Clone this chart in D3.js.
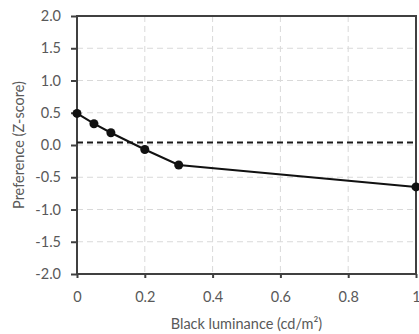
<!DOCTYPE html>
<html>
<head>
<meta charset="utf-8">
<script src="https://cdn.jsdelivr.net/npm/d3@7"></script>
<style>
  body { margin: 0; background: #fff; }
  text { font-family: Lato, "Open Sans", sans-serif; fill: #595959; }
</style>
</head>
<body>
<div id="chart"></div>
<script>
// data
var luminance = [0, 0.05, 0.1, 0.2, 0.3, 1.0];
var preference = [0.49, 0.33, 0.19, -0.07, -0.31, -0.65];
var referenceLevel = 0.04;
var xTicks = [0, 0.2, 0.4, 0.6, 0.8, 1];
var yTicks = [-2, -1.5, -1, -0.5, 0, 0.5, 1, 1.5, 2];

var margin = {top: 16, right: 3, bottom: 60, left: 77},
    width = 419 - margin.left - margin.right,
    height = 334 - margin.top - margin.bottom;

var svg = d3.select("#chart")
  .append("svg")
    .attr("width", 419)
    .attr("height", 334)
  .append("g")
    .attr("transform", "translate(" + margin.left + "," + margin.top + ")");

var x = d3.scaleLinear().domain([0, 1]).range([0, width]);
var y = d3.scaleLinear().domain([-2, 2]).range([height, 0]);

// grid lines
svg.selectAll(".hgrid")
  .data(yTicks.filter(function(d) { return d > -2 && d < 2; }))
  .enter().append("line")
    .attr("x1", 0).attr("x2", width)
    .attr("y1", function(d) { return y(d); })
    .attr("y2", function(d) { return y(d); })
    .attr("stroke", "#d9d9d9")
    .attr("stroke-dasharray", "6,4");

svg.selectAll(".vgrid")
  .data(xTicks.filter(function(d) { return d > 0 && d < 1; }))
  .enter().append("line")
    .attr("x1", function(d) { return x(d); })
    .attr("x2", function(d) { return x(d); })
    .attr("y1", 0).attr("y2", height)
    .attr("stroke", "#d9d9d9")
    .attr("stroke-dasharray", "6,4");

// frame
svg.append("rect")
  .attr("width", width).attr("height", height)
  .attr("fill", "none")
  .attr("stroke", "#404040")
  .attr("stroke-width", 2);

// axes
var yAxis = svg.append("g")
  .call(d3.axisLeft(y).tickValues(yTicks).tickSize(6).tickPadding(10));
var xAxis = svg.append("g")
  .attr("transform", "translate(0," + height + ")")
  .call(d3.axisBottom(x).tickValues(xTicks).tickFormat(function(d) { return d === 0 || d === 1 ? d : d3.format(".1f")(d); }).tickSize(4).tickPadding(14));

[yAxis, xAxis].forEach(function(a) {
  a.select(".domain").remove();
  a.selectAll("line").attr("stroke", "#404040").attr("stroke-width", 2);
  a.selectAll("text").style("font-size", "14.5px").attr("fill", "#595959")
    .style("font-family", "Lato, 'Open Sans', sans-serif");
});
yAxis.selectAll("text").text(function(d) { return d < 0 ? "-" + d3.format(".1f")(-d) : d3.format(".1f")(d); });

// reference dashed line
svg.append("line")
  .attr("x1", 0).attr("x2", width)
  .attr("y1", y(referenceLevel)).attr("y2", y(referenceLevel))
  .attr("stroke", "#1a1a1a")
  .attr("stroke-width", 2)
  .attr("stroke-dasharray", "6,4");

// series
var data = luminance.map(function(d, i) { return {x: d, y: preference[i]}; });

svg.append("path")
  .datum(data)
  .attr("fill", "none")
  .attr("stroke", "#111")
  .attr("stroke-width", 2)
  .attr("d", d3.line().x(function(d) { return x(d.x); }).y(function(d) { return y(d.y); }));

svg.selectAll("circle")
  .data(data)
  .enter().append("circle")
    .attr("cx", function(d) { return x(d.x); })
    .attr("cy", function(d) { return y(d.y); })
    .attr("r", 4.5)
    .attr("fill", "#111");

// axis titles
svg.append("text")
  .attr("x", width / 2)
  .attr("y", height + 55)
  .attr("text-anchor", "middle")
  .style("font-size", "14.5px")
  .text("Black luminance (cd/m²)");

svg.append("text")
  .attr("transform", "translate(" + (-53) + "," + (height / 2) + ") rotate(-90)")
  .attr("text-anchor", "middle")
  .style("font-size", "14.5px")
  .text("Preference (Z-score)");
</script>
</body>
</html>
